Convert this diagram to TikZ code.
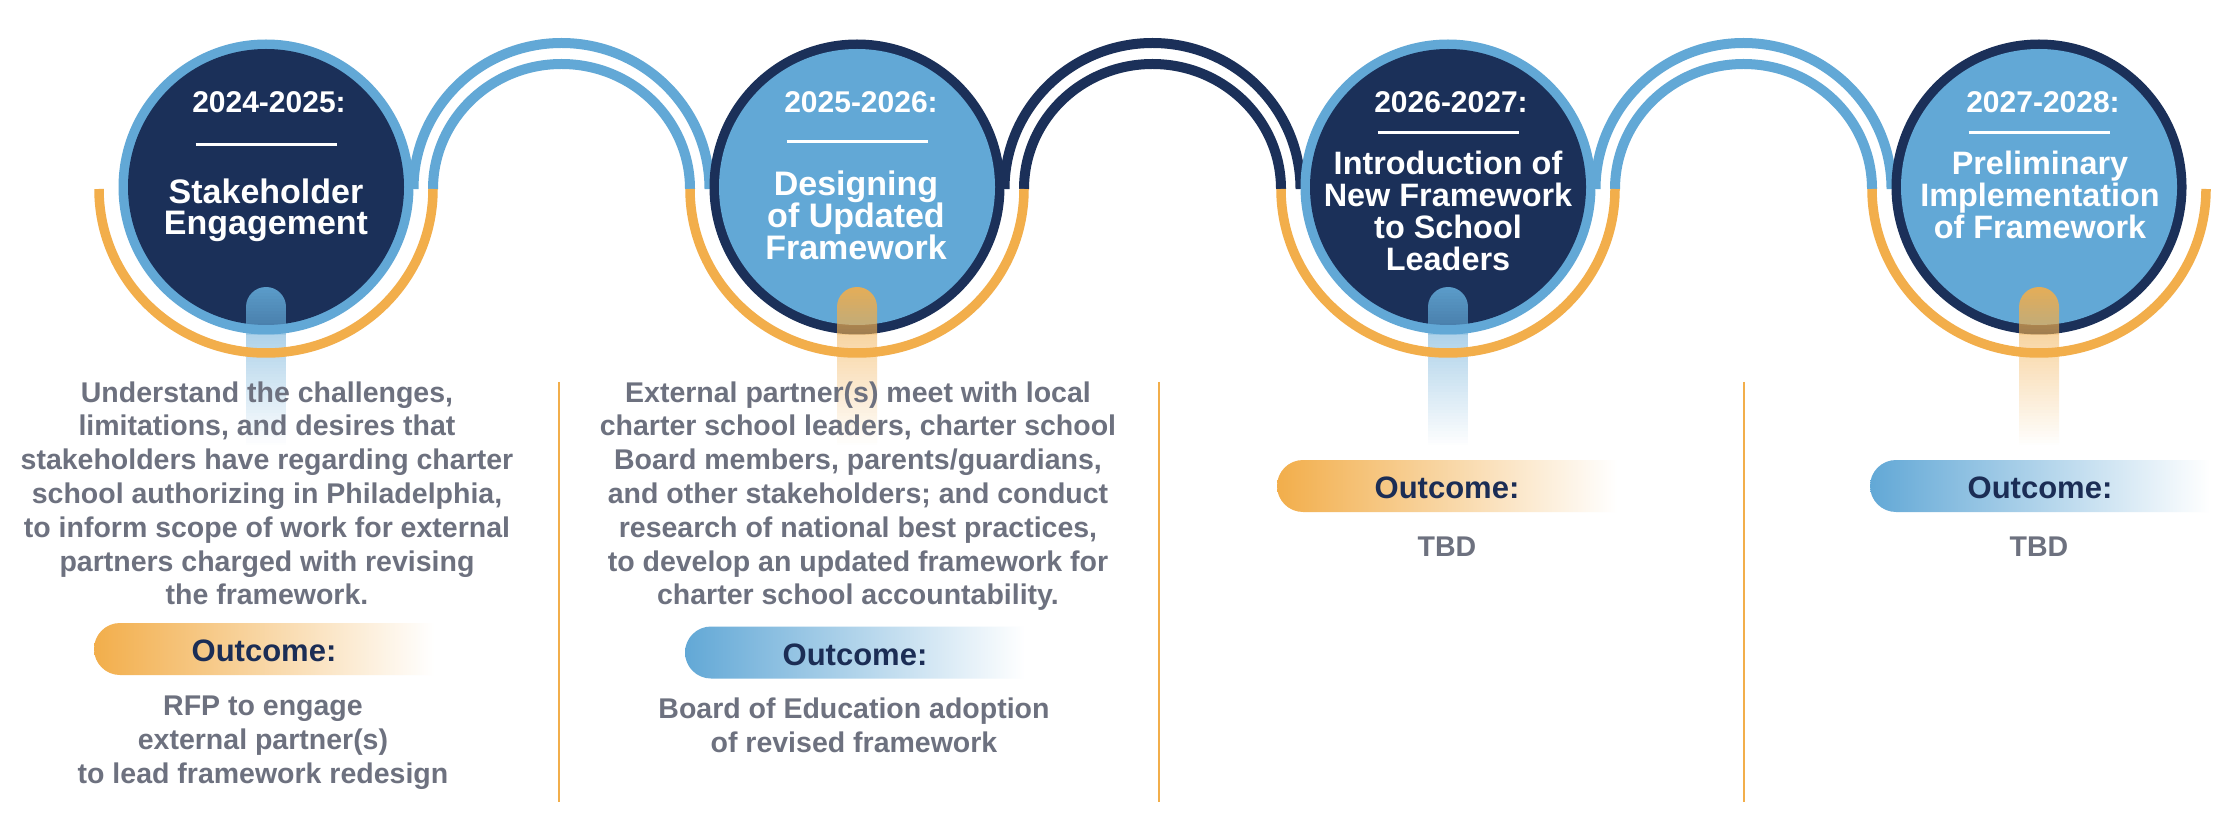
\documentclass[tikz,border=0pt]{standalone}
\usepackage{fontspec}
\setmainfont{Liberation Sans}
\usetikzlibrary{calc}
\definecolor{navy}{RGB}{27,48,89}
\definecolor{sky}{RGB}{98,168,214}
\definecolor{amber}{RGB}{242,174,75}
\definecolor{slate}{RGB}{109,113,127}
\definecolor{ink}{RGB}{27,45,85}
% name, style, x, first baseline (px, downward), pitch, lines
\newcommand{\tlines}[6]{\foreach \t [count=\k from 0] in {#6} {\node[#2] (#1-\k) at (#3,{-(#4+#5*\k)}) {\t};}}
% stem under a circle: centre coordinate, colour
\newcommand{\stemat}[2]{%
\begin{scope}[shift={(#1)}]
 \clip (-20,-120) arc[start angle=180,end angle=0,radius=20] -- (20,-258) -- (-20,-258) -- cycle;
 \foreach \i in {0,...,52}{%
   \pgfmathsetmacro{\yy}{287+3*\i}%
   \pgfmathsetmacro{\op}{\yy<335 ? 0.9-0.3*(\yy-287)/48 : 0.5*(445-\yy)/110}%
   \fill[#2, fill opacity=\op] (-21,187-\yy) rectangle (21,184-\yy);
 }
\end{scope}}
% pill: left x, centre y (px downward), colour
\newcommand{\pill}[3]{\shade[left color=#3, right color=white] (#1+340,-#2+26) -- (#1+26,-#2+26) arc[start angle=90,end angle=270,radius=26] -- (#1+340,-#2-26) -- cycle;}
\begin{document}
\begin{tikzpicture}[x=0.5pt,y=0.5pt,
  yeartxt/.style={font=\fontsize{15}{15}\selectfont\bfseries, text=white, anchor=base, inner sep=0},
  titletxt/.style={font=\fontsize{17}{17}\selectfont\bfseries, text=white, anchor=base, inner sep=0},
  titletxtS/.style={font=\fontsize{16.2}{16.2}\selectfont\bfseries, text=white, anchor=base, inner sep=0},
  desctxt/.style={font=\fontsize{14.25}{14.25}\selectfont\bfseries, text=slate, anchor=base, inner sep=0},
  outtxt/.style={font=\fontsize{15.5}{15.5}\selectfont\bfseries, text=ink, anchor=base, inner sep=0},
  orangearc/.style={draw=amber, line width=4.75pt},
  linkarc/.style={line width=5pt},
  rulestyle/.style={draw=white, line width=1.5pt},
  sepline/.style={draw=amber, line width=1.2pt},
]
\useasboundingbox[fill=white] (0,0) rectangle (2232,-828);

\coordinate (c1) at (266,-187);
\coordinate (c2) at (857,-187);
\coordinate (c3) at (1448,-187);
\coordinate (c4) at (2039,-187);

% outer link arcs
\draw[linkarc, draw=sky]  ($(c1)+(147.5,-2)$) arc[start angle=180,end angle=0,x radius=148,y radius=146];
\draw[linkarc, draw=navy] ($(c2)+(147.5,-2)$) arc[start angle=180,end angle=0,x radius=148,y radius=146];
\draw[linkarc, draw=sky]  ($(c3)+(147.5,-2)$) arc[start angle=180,end angle=0,x radius=148,y radius=146];

% circles
\fill[sky] (c1) circle[radius=147.5]; \fill[navy] (c1) circle[radius=138];
\fill[navy] (c2) circle[radius=147.5]; \fill[sky] (c2) circle[radius=138];
\fill[sky] (c3) circle[radius=147.5]; \fill[navy] (c3) circle[radius=138];
\fill[navy] (c4) circle[radius=147.5]; \fill[sky] (c4) circle[radius=138];

% stems
\stemat{c1}{sky}
\stemat{c2}{amber}
\stemat{c3}{sky}
\stemat{c4}{amber}

% inner link arcs
\draw[linkarc, draw=sky]  ($(c1)+(167,-2)$) arc[start angle=180,end angle=0,x radius=128.5,y radius=125];
\draw[linkarc, draw=navy] ($(c2)+(167,-2)$) arc[start angle=180,end angle=0,x radius=128.5,y radius=125];
\draw[linkarc, draw=sky]  ($(c3)+(167,-2)$) arc[start angle=180,end angle=0,x radius=128.5,y radius=125];

% orange lower arcs
\foreach \c in {c1,c2,c3,c4}
  \draw[orangearc] ($(\c)+(-167,-2)$) arc[start angle=180,end angle=360,x radius=167,y radius=164];

% circle texts
\node[yeartxt] (y1) at (269,-113) {2024-2025:};
\draw[rulestyle] (195.5,-145) -- (336.5,-145);
\tlines{t1}{titletxt}{266}{204}{31}{Stakeholder,Engagement}

\node[yeartxt] (y2) at (861,-113) {2025-2026:};
\draw[rulestyle] (786.5,-142) -- (927.5,-142);
\tlines{t2}{titletxt}{856}{196}{32}{Designing,of Updated,Framework}

\node[yeartxt] (y3) at (1451,-113) {2026-2027:};
\draw[rulestyle] (1377.5,-133) -- (1518.5,-133);
\tlines{t3}{titletxtS}{1448}{175}{31.7}{Introduction of,New Framework,to School,Leaders}

\node[yeartxt] (y4) at (2043,-113) {2027-2028:};
\draw[rulestyle] (1968.5,-133) -- (2109.5,-133);
\tlines{t4}{titletxtS}{2040}{175}{32}{Preliminary,Implementation,of Framework}

% descriptions
\tlines{d1}{desctxt}{267}{402}{33.8}{{Understand the challenges,},{limitations, and desires that},stakeholders have regarding charter,{school authorizing in Philadelphia,},to inform scope of work for external,partners charged with revising,the framework.}
\tlines{d2}{desctxt}{858}{402}{33.8}{External partner(s) meet with local,{charter school leaders, charter school},{Board members, parents/guardians,},and other stakeholders; and conduct,{research of national best practices,},to develop an updated framework for,charter school accountability.}

% pills
\pill{94}{649}{amber}
\node[outtxt] (o1) at (264,-661) {Outcome:};
\pill{685}{652.5}{sky}
\node[outtxt] (o2) at (855,-665) {Outcome:};
\pill{1277}{486}{amber}
\node[outtxt] (o3) at (1447,-498) {Outcome:};
\pill{1870}{486}{sky}
\node[outtxt] (o4) at (2040,-498) {Outcome:};

% outcome bodies
\tlines{b1}{desctxt}{263}{715}{34}{RFP to engage,external partner(s),to lead framework redesign}
\tlines{b2}{desctxt}{854}{718}{34.5}{Board of Education adoption,of revised framework}
\node[desctxt] (b3) at (1447,-556) {TBD};
\node[desctxt] (b4) at (2039,-556) {TBD};

% separators
\draw[sepline] (559,-382) -- (559,-802);
\draw[sepline] (1159,-382) -- (1159,-802);
\draw[sepline] (1744,-382) -- (1744,-802);
\end{tikzpicture}
\end{document}
